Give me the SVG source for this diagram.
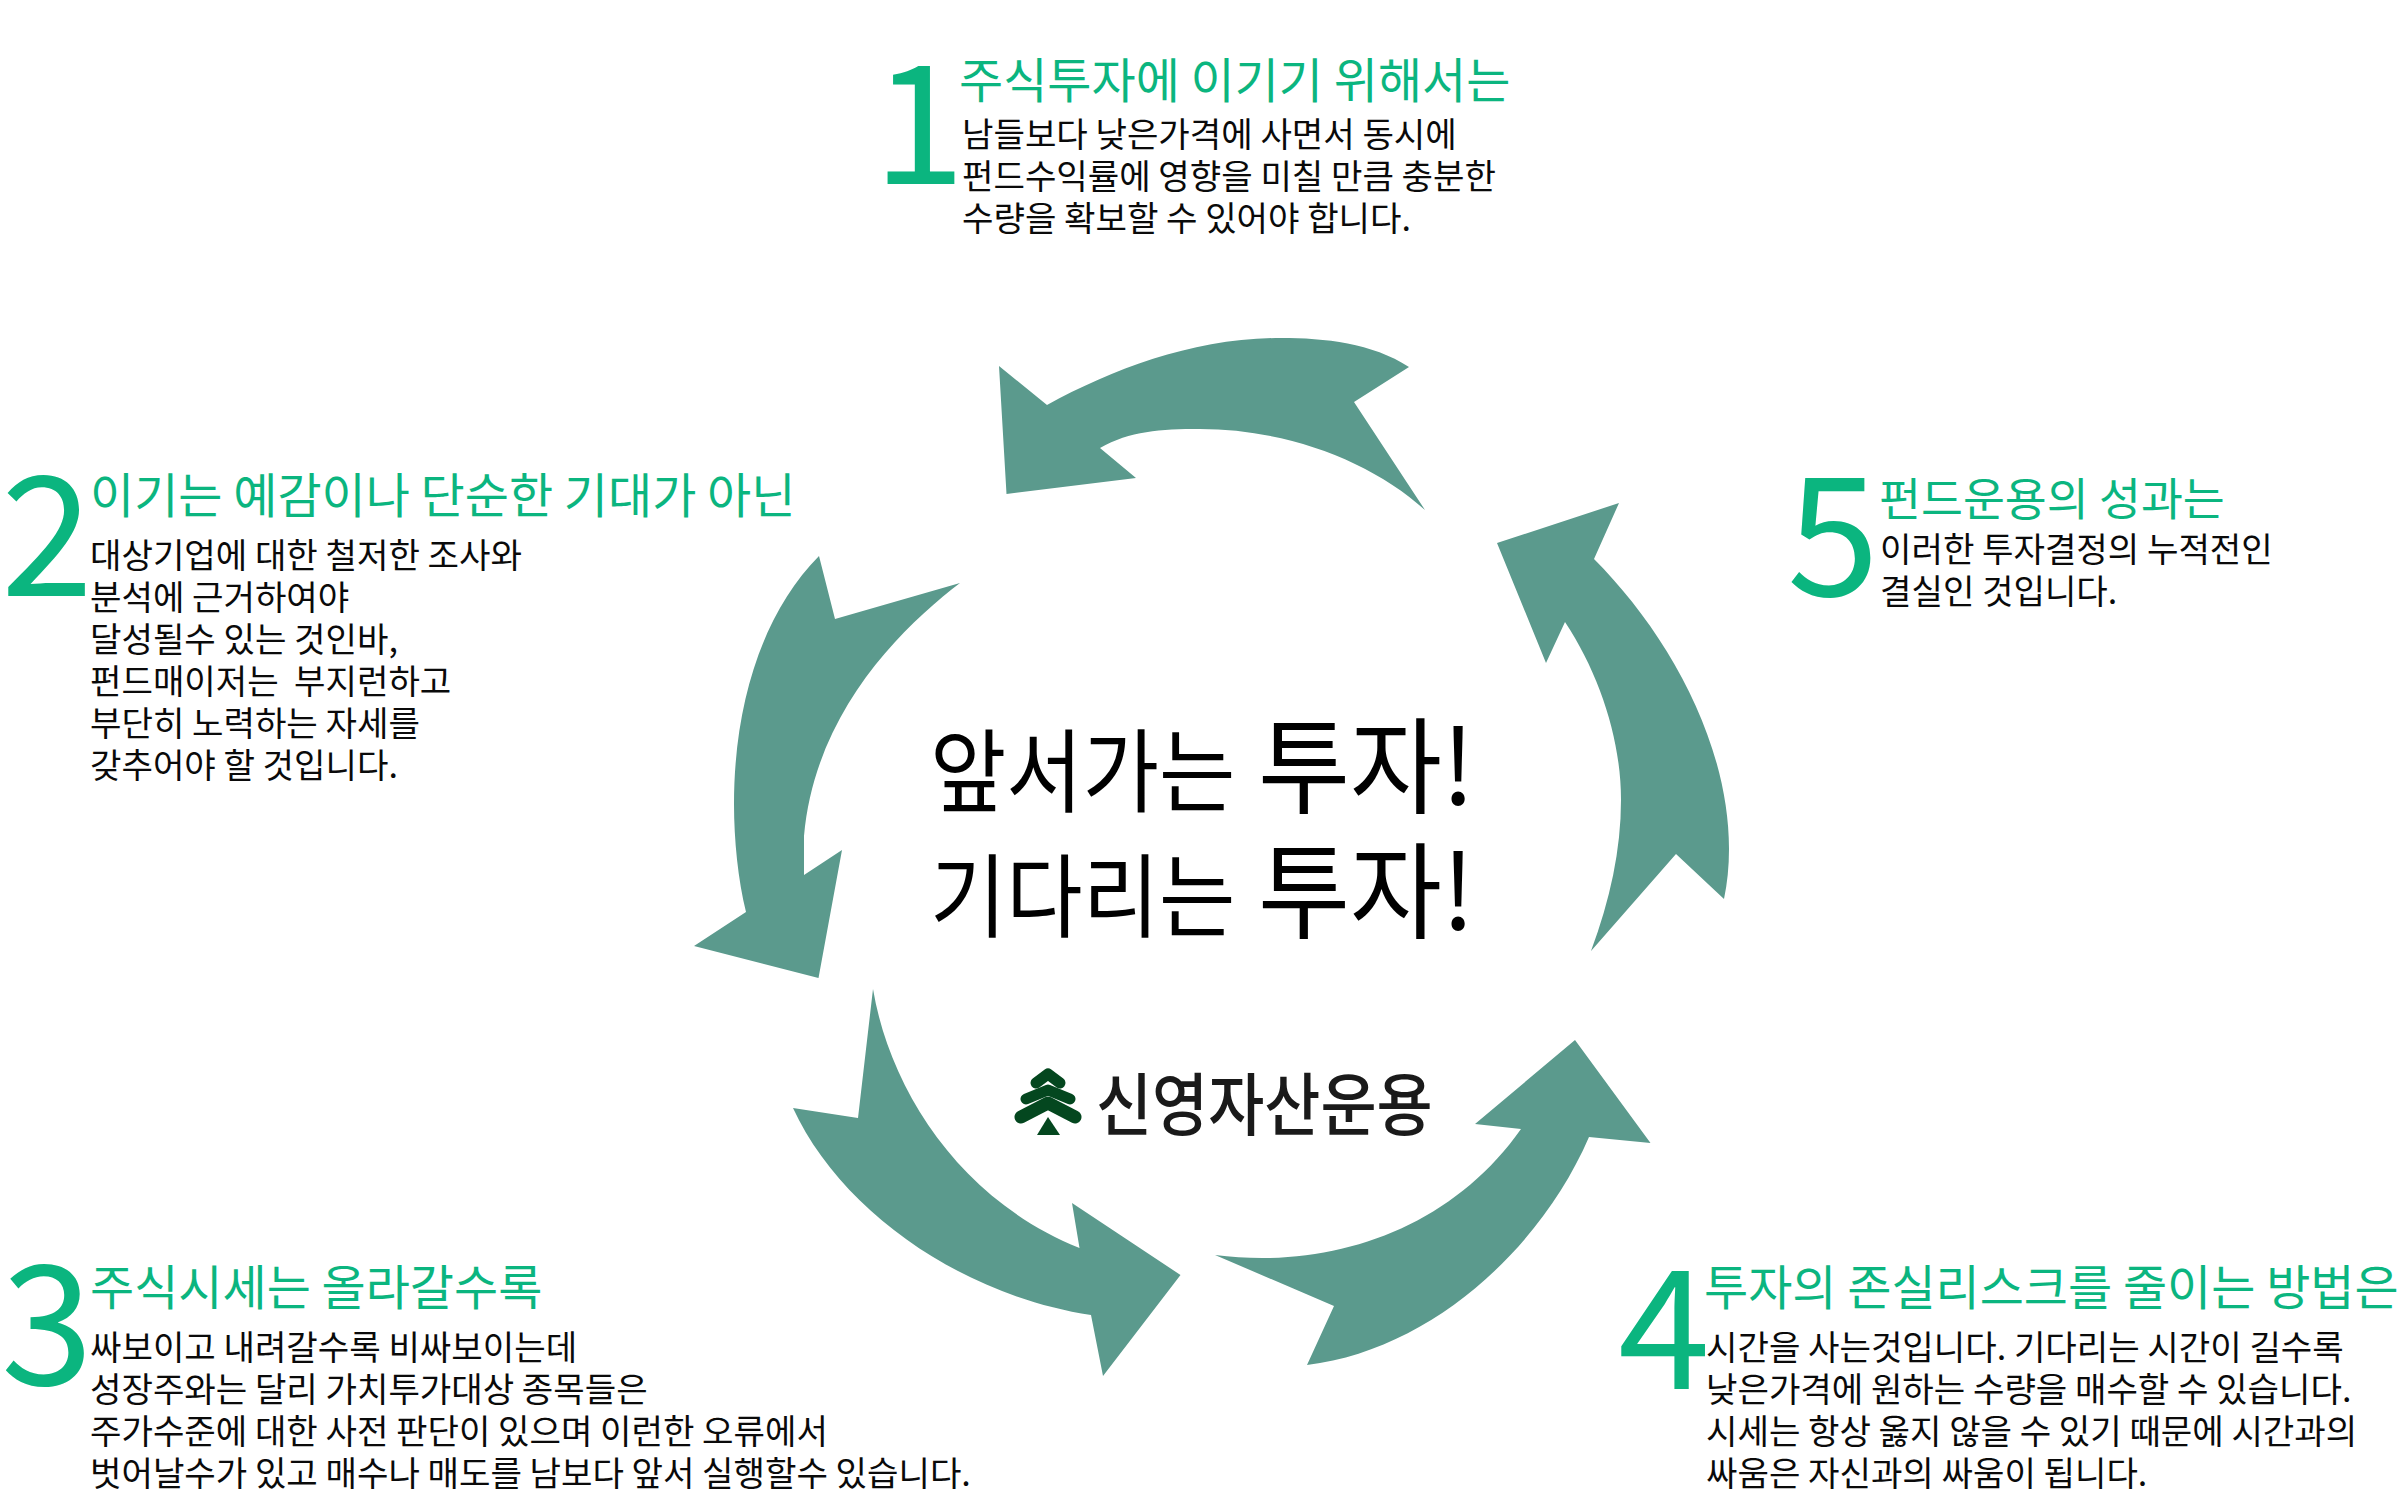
<svg xmlns="http://www.w3.org/2000/svg" width="2400" height="1494" viewBox="0 0 2400 1494">
<style>
text{font-family:"Noto Sans CJK KR","Noto Sans",sans-serif;white-space:pre}
.n{font-size:166px;fill:#0bb57f;font-weight:400}
.h{font-size:48px;fill:#0bb57f;font-weight:400}
.b{font-size:34.2px;fill:#0a0a0a;font-weight:400}
.c1{font-size:83px;fill:#000;font-weight:400}
.c2{font-size:100px;fill:#000;font-weight:400}
.a{fill:#5b9a8d}
.t{fill:none;stroke:#04471f;stroke-linecap:round;stroke-linejoin:round}
</style>
<rect width="2400" height="1494" fill="#fff"/>
<g id="connectors">
<path class="a" d="M999 366L1047 405C1115 368 1195 338 1281 338C1325 338 1372 343 1409 367L1354 402L1425 510C1370 460 1285 429 1200 429C1160 429 1130 431 1100 448L1136 478L1006.500 494Z"/>
<path class="a" d="M1619 503L1497 543L1546 663L1565 622C1600 675 1621 740 1621 800C1621 850 1610 900 1591 951L1676 854L1724 899Q1729 875 1729 849C1729 740 1665 630 1594 559Z"/>
<path class="a" d="M819 556L835 619L960 583C905 625 815 710 804 836L804 875L842 850L818.500 978L694 946L746 912C738 880 734 840 734 804C734 700 765 610 819 556Z"/>
<path class="a" d="M873 989L858 1118L793 1108C840 1210 960 1295 1091 1315L1103 1376L1180.500 1275L1072 1203L1079.500 1248C960 1200 890 1090 873 989Z"/>
<path class="a" d="M1215 1255C1330 1270 1450 1230 1521 1129L1475 1124L1575 1040L1650.500 1143L1589 1137C1540 1250 1430 1350 1307 1365L1334 1306Z"/>
</g>
<g id="center">
<text class="c1" transform="translate(930 805) scale(1 1.1)">앞서가는</text><text class="c2" transform="translate(1258 805) scale(1 1.05)">투자!</text>
<text class="c1" transform="translate(930 930) scale(1 1.1)">기다리는</text><text class="c2" transform="translate(1258 930) scale(1 1.05)">투자!</text>
</g>
<g id="logo">
<path class="t" stroke-width="11" d="M1036 1083L1048 1074L1060 1083"/>
<path class="t" stroke-width="11" d="M1026 1099L1048 1090L1070 1099"/>
<path class="t" stroke-width="13" d="M1021 1117L1048 1103L1075 1117"/>
<path fill="#04471f" d="M1048 1117L1060 1135L1037 1135Z"/>
<text transform="translate(1096 1130) scale(1 1.12)" style="font-size:61px;font-weight:500;fill:#1a1a1a">신영자산운용</text>
</g>
<g id="step1"><text class="n" x="873" y="184">1</text><text class="h" x="959" y="98">주식투자에 이기기 위해서는</text>
<text class="b" x="962" y="147">남들보다 낮은가격에 사면서 동시에</text><text class="b" x="962" y="189">펀드수익률에 영향을 미칠 만큼 충분한</text><text class="b" x="962" y="231">수량을 확보할 수 있어야 합니다.</text></g>
<g id="step2"><text class="n" x="1" y="596">2</text><text class="h" x="90" y="513">이기는 예감이나 단순한 기대가 아닌</text>
<text class="b" x="90" y="568">대상기업에 대한 철저한 조사와</text><text class="b" x="90" y="610">분석에 근거하여야</text><text class="b" x="90" y="652">달성될수 있는 것인바,</text><text class="b" x="90" y="694">펀드매이저는  부지런하고</text><text class="b" x="90" y="736">부단히 노력하는 자세를</text><text class="b" x="90" y="778">갖추어야 할 것입니다.</text></g>
<g id="step3"><text class="n" x="1" y="1385">3</text><text class="h" x="90" y="1305">주식시세는 올라갈수록</text>
<text class="b" x="90" y="1360">싸보이고 내려갈수록 비싸보이는데</text><text class="b" x="90" y="1402">성장주와는 달리 가치투가대상 종목들은</text><text class="b" x="90" y="1444">주가수준에 대한 사전 판단이 있으며 이런한 오류에서</text><text class="b" x="90" y="1486">벗어날수가 있고 매수나 매도를 남보다 앞서 실행할수 있습니다.</text></g>
<g id="step4"><text class="n" x="1618" y="1389">4</text><text class="h" x="1704" y="1305">투자의 존실리스크를 줄이는 방법은</text>
<text class="b" x="1706" y="1360">시간을 사는것입니다. 기다리는 시간이 길수록</text><text class="b" x="1706" y="1402">낮은가격에 원하는 수량을 매수할 수 있습니다.</text><text class="b" x="1706" y="1444">시세는 항상 옳지 않을 수 있기 때문에 시간과의</text><text class="b" x="1706" y="1486">싸움은 자신과의 싸움이 됩니다.</text></g>
<g id="step5"><text class="n" x="1787" y="596">5</text><text class="h" x="1879" y="516" style="font-size:45.600px">펀드운용의 성과는</text>
<text class="b" x="1880" y="562">이러한 투자결정의 누적전인</text><text class="b" x="1880" y="604">결실인 것입니다.</text></g>
</svg>
